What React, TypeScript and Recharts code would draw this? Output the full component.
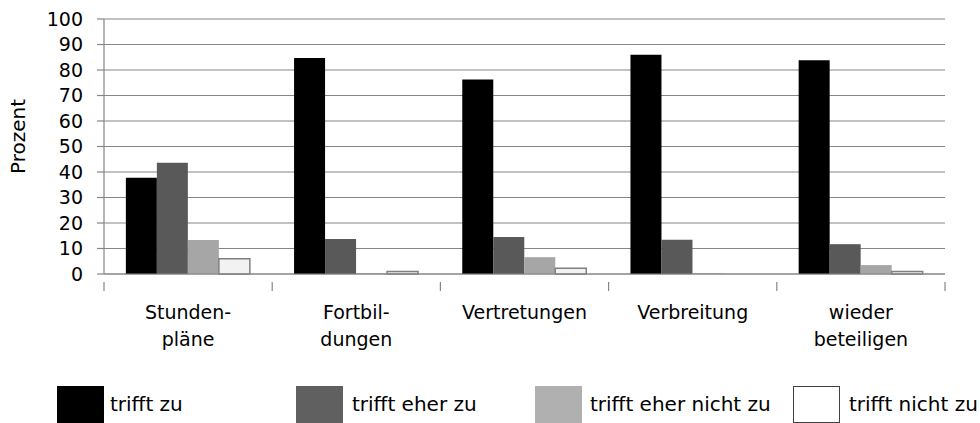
import React from 'react';
import { BarChart, Bar, XAxis, YAxis, CartesianGrid } from 'recharts';

const categories = ['Stunden-\npläne', 'Fortbil-\ndungen', 'Vertretungen', 'Verbreitung', 'wieder\nbeteiligen'];
const trifftZu = [37.7, 84.7, 76.3, 86, 83.8];
const trifftEherZu = [43.6, 13.7, 14.5, 13.4, 11.7];
const trifftEherNichtZu = [13.3, 0.3, 6.6, 0.3, 3.5];
const trifftNichtZu = [6, 1, 2.3, 0, 1];
const yTicks = [0, 10, 20, 30, 40, 50, 60, 70, 80, 90, 100];

const series = [
  { key: 'zu', name: 'trifft zu', fill: '#000000', stroke: 'none', legend: '#000000' },
  { key: 'eherZu', name: 'trifft eher zu', fill: '#595959', stroke: 'none', legend: '#606060' },
  { key: 'eherNicht', name: 'trifft eher nicht zu', fill: '#a6a6a6', stroke: 'none', legend: '#b0b0b0' },
  { key: 'nicht', name: 'trifft nicht zu', fill: '#f2f2f2', stroke: '#808080', legend: '#ffffff' },
];

const data = categories.map((c, i) => ({
  cat: c,
  zu: trifftZu[i],
  eherZu: trifftEherZu[i],
  eherNicht: trifftEherNichtZu[i],
  nicht: trifftNichtZu[i],
}));

const FONT = '"DejaVu Sans", sans-serif';
const PLOT_LEFT = 104;
const PLOT_RIGHT = 35;
const CHART_W = 980;
const band = (CHART_W - PLOT_LEFT - PLOT_RIGHT) / categories.length;

// category label plus Excel-style tick marks between categories
const CatTick = (props: any) => {
  const { x, y, payload, index } = props;
  const lines = String(payload.value).split('\n');
  const left = x - band / 2;
  const right = x + band / 2;
  return (
    <g>
      <line x1={left} x2={left} y1={y} y2={y + 9} stroke="#868686" strokeWidth={1.2} />
      {index === categories.length - 1 && (
        <line x1={right} x2={right} y1={y} y2={y + 9} stroke="#868686" strokeWidth={1.2} />
      )}
      <text x={x} y={y} textAnchor="middle" fontFamily={FONT} fontSize={19} fill="#000">
        {lines.map((l, i) => (
          <tspan key={i} x={x} y={y + 37 + i * 27}>{l}</tspan>
        ))}
      </text>
    </g>
  );
};

const legendPos = [
  { swatch: 57, text: 110 },
  { swatch: 296, text: 352 },
  { swatch: 535, text: 590 },
  { swatch: 793, text: 849 },
];

const App: React.FC = () => {
  return (
    <div style={{ position: 'absolute', left: 0, top: 0, width: 980, height: 423, background: '#fff', overflow: 'hidden' }}>
      <BarChart
        width={CHART_W}
        height={380}
        data={data}
        margin={{ top: 19, right: PLOT_RIGHT, left: 0, bottom: 0 }}
        barCategoryGap="13%"
        barGap={0}
      >
        <CartesianGrid vertical={false} stroke="#868686" strokeWidth={1.2} />
        <XAxis
          dataKey="cat"
          height={106}
          interval={0}
          tickLine={false}
          axisLine={{ stroke: '#868686', strokeWidth: 1.2 }}
          tick={<CatTick />}
        />
        <YAxis
          width={PLOT_LEFT}
          domain={[0, 100]}
          ticks={yTicks}
          interval={0}
          tickSize={7}
          tickMargin={14}
          tickLine={{ stroke: '#868686', strokeWidth: 1.2 }}
          axisLine={{ stroke: '#868686', strokeWidth: 1.2 }}
          tick={{ fontFamily: FONT, fontSize: 19, fill: '#000' }}
          label={{ value: 'Prozent', angle: -90, position: 'center', dx: -34, dy: -10, style: { fontFamily: FONT, fontSize: 20, fill: '#000' } }}
        />
        {series.map((s) => (
          <Bar
            key={s.key}
            dataKey={s.key}
            name={s.name}
            fill={s.fill}
            stroke={s.stroke}
            strokeWidth={s.stroke === 'none' ? 0 : 1.5}
            isAnimationActive={false}
          />
        ))}
      </BarChart>
      {series.map((s, i) => (
        <React.Fragment key={s.key}>
          <div
            style={{
              position: 'absolute',
              left: legendPos[i].swatch,
              top: 386,
              width: 47,
              height: 37,
              boxSizing: 'border-box',
              background: s.legend,
              border: i === 3 ? '1px solid #404040' : 'none',
            }}
          />
          <div
            style={{
              position: 'absolute',
              left: legendPos[i].text,
              top: 386,
              height: 37,
              lineHeight: '37px',
              fontFamily: FONT,
              fontSize: 20,
              color: '#000',
              whiteSpace: 'nowrap',
            }}
          >
            {s.name}
          </div>
        </React.Fragment>
      ))}
    </div>
  );
};

export default App;
